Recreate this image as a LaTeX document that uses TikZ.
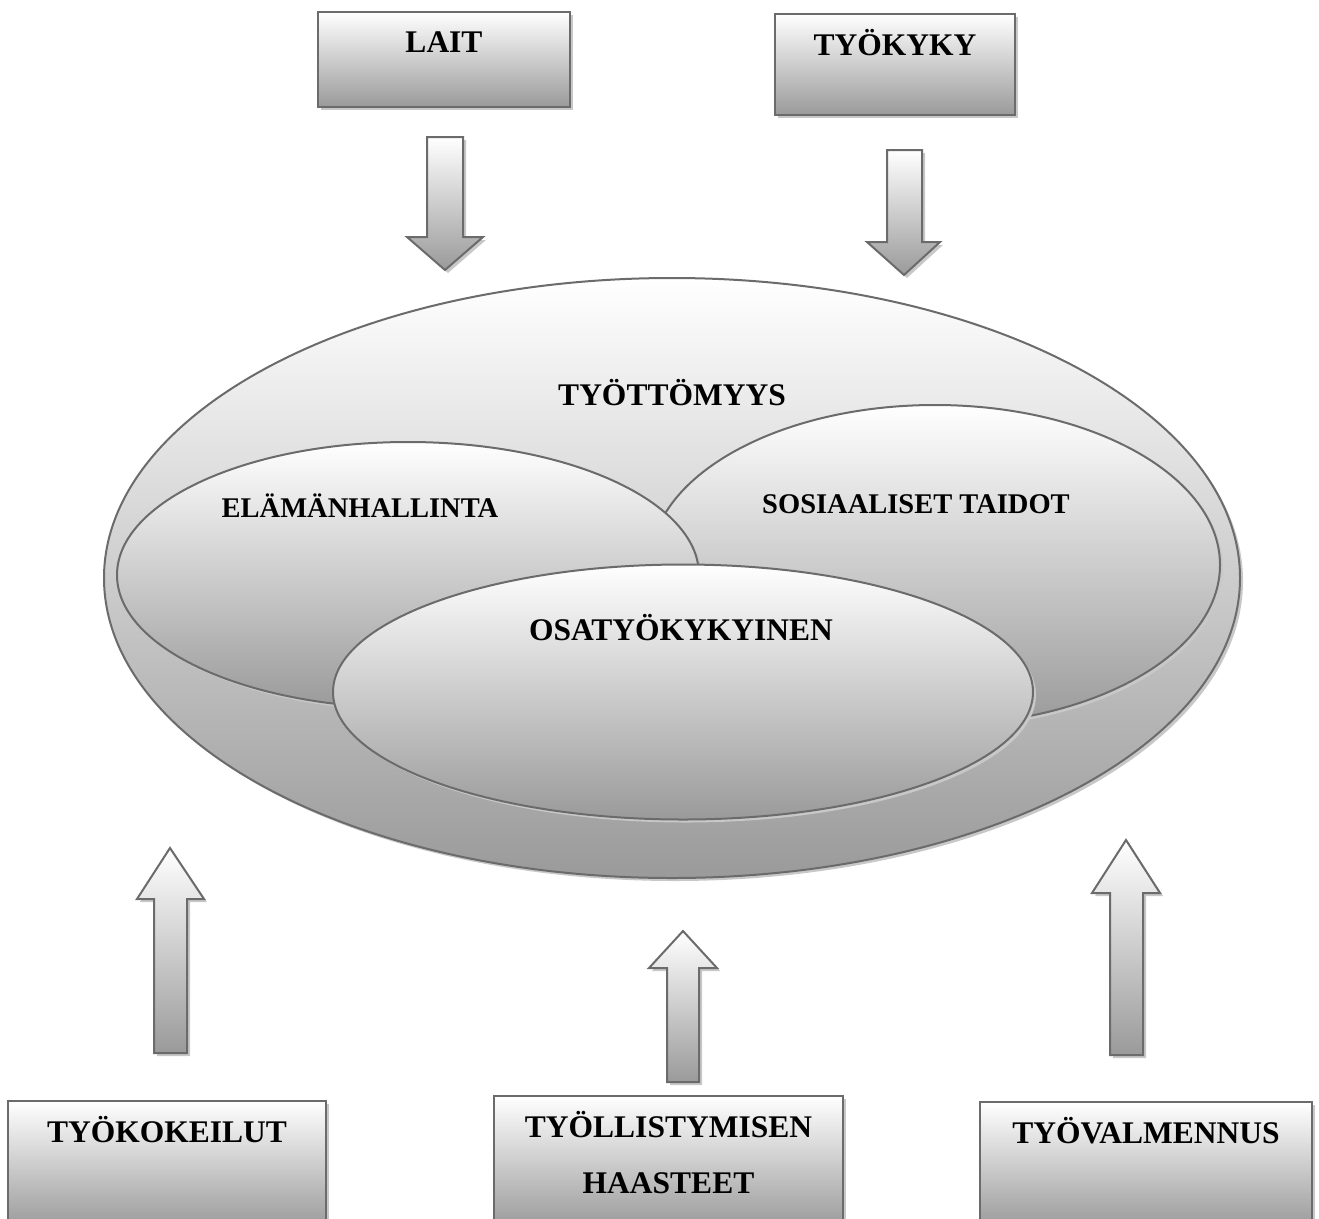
\documentclass[tikz,border=0pt]{standalone}
\usepackage{fontspec}
\setmainfont{Liberation Serif}
\usetikzlibrary{shapes.geometric,shadows}
\definecolor{edge}{HTML}{6B6B6B}
\definecolor{shadeend}{HTML}{9A9A9A}
\definecolor{shadowc}{HTML}{C8C8C8}
\begin{document}
\begin{tikzpicture}[x=1pt,y=-1pt,
  shd/.style={drop shadow={shadow xshift=3pt,shadow yshift=-3pt,fill=shadowc,opacity=1}},
  boxstyle/.style={rectangle,inner sep=0,draw=edge,line width=2pt,top color=white,bottom color=shadeend,shd},
  ellstyle/.style={ellipse,inner sep=0,draw=edge,line width=2pt,top color=white,bottom color=shadeend,shd},
  arr/.style={draw=edge,line width=2pt,line join=miter,top color=white,bottom color=shadeend,shd},
  lbl/.style={font=\fontsize{31.5}{36}\selectfont\bfseries,inner sep=0,anchor=base},
  lbls/.style={font=\fontsize{28.5}{34}\selectfont\bfseries,inner sep=0,anchor=base},
]
\useasboundingbox (0,0) rectangle (1319,1218);
\clip (0,0) rectangle (1319,1218);

% top boxes
\node[boxstyle, minimum width=252pt, minimum height=95pt] (laitbox) at (444,59.5) {};
\node[boxstyle, minimum width=240pt, minimum height=101pt] (tykbox) at (895,64.5) {};
\node[lbl] (laitt) at (444,52) {LAIT};
\node[lbl] (tykt) at (895,55) {TYÖKYKY};

% down arrows
\path[arr] (427,137) -- (463,137) -- (463,237) -- (483,237) -- (445,270) -- (407,237) -- (427,237) -- cycle;
\path[arr] (887,150) -- (922,150) -- (922,242) -- (940,242) -- (904,275) -- (867,242) -- (887,242) -- cycle;

% ellipses
\node[ellstyle, minimum width=1136pt, minimum height=600pt] (tyott) at (672,578) {};
\node[ellstyle, minimum width=570pt, minimum height=320pt] (sosell) at (935,565) {};
\node[ellstyle, minimum width=582pt, minimum height=266pt] (elell) at (408,575) {};
\node[ellstyle, minimum width=700pt, minimum height=255pt] (osell) at (683,692) {};
\node[lbl] (tyottt) at (672,405) {TYÖTTÖMYYS};
\node[lbls] (elt) at (360,517) {ELÄMÄNHALLINTA};
\node[lbls] (sost) at (916,513) {SOSIAALISET TAIDOT};
\node[lbl] (ost) at (681,640) {OSATYÖKYKYINEN};

% up arrows
\path[arr] (170,848) -- (204,899) -- (187,899) -- (187,1053) -- (154,1053) -- (154,899) -- (137,899) -- cycle;
\path[arr] (683,931) -- (717,968) -- (699,968) -- (699,1082) -- (667,1082) -- (667,968) -- (649,968) -- cycle;
\path[arr] (1126,840) -- (1160,893) -- (1143,893) -- (1143,1055) -- (1110,1055) -- (1110,893) -- (1092,893) -- cycle;

% bottom boxes
\node[boxstyle, minimum width=318pt, minimum height=127pt] (tkkbox) at (167,1164.5) {};
\node[boxstyle, minimum width=349pt, minimum height=132pt] (tlbox) at (668.5,1162) {};
\node[boxstyle, minimum width=332pt, minimum height=126pt] (tvbox) at (1146,1165) {};
\node[lbl] (tkkt) at (167,1142) {TYÖKOKEILUT};
\node[lbl] (tlt1) at (668.5,1137) {TYÖLLISTYMISEN};
\node[lbl] (tlt2) at (668.5,1193) {HAASTEET};
\node[lbl] (tvt) at (1146,1143) {TYÖVALMENNUS};
\end{tikzpicture}
\end{document}
